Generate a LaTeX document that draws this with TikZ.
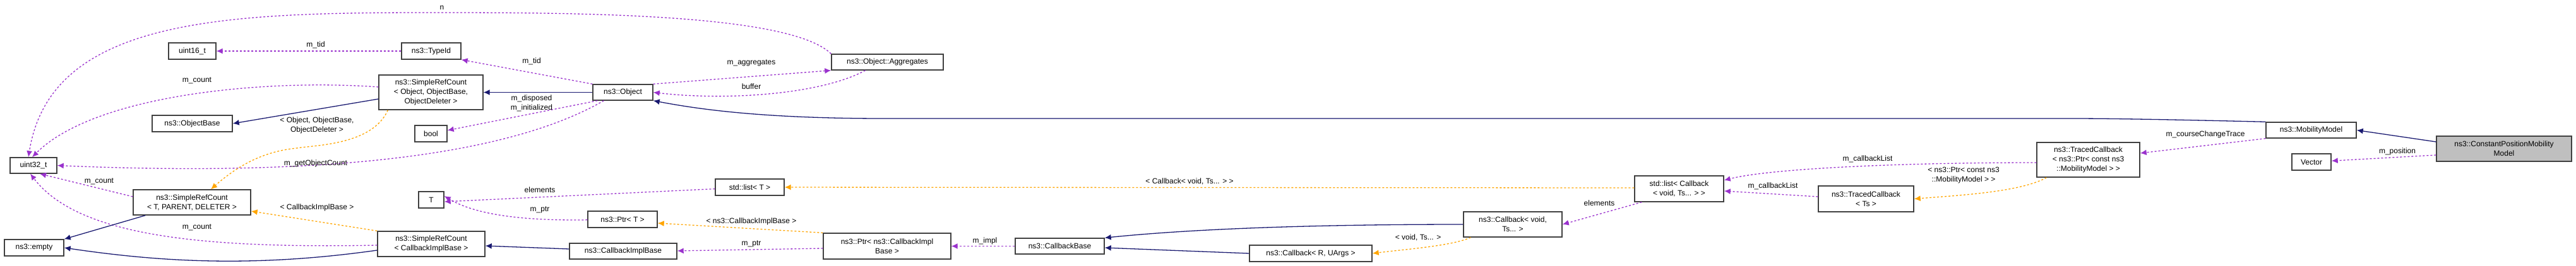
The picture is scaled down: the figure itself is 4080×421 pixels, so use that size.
\documentclass[tikz,border=0pt]{standalone}
\usepackage{fontspec}
\setmainfont{Liberation Sans}
\usetikzlibrary{arrows.meta, positioning}
\definecolor{edgePurple}{RGB}{154, 50, 205}
\definecolor{edgeOrange}{RGB}{255, 165, 0}
\definecolor{edgeNavy}{RGB}{25, 25, 112}
\definecolor{boxGrey}{RGB}{64, 64, 64}

\begin{document}
\begin{tikzpicture}[
            x=1pt, y=-1pt,
            font=\fontsize{12}{15}\selectfont,
            % --- Class boxes ---
            cls/.style={
                rectangle,
                draw=boxGrey,
                line width=1.4pt,
                fill=white,
                align=center,
                inner sep=2pt
            },
            focus/.style={
                cls,
                fill=gray!50
            },
            lbl/.style={
                inner sep=1pt,
                align=center
            },
            % --- Connectors ---
            member/.style={
                draw=edgePurple,
                dashed,
                line width=1.3pt,
                -{Latex[length=10pt,width=9pt]}
            },
            tmpl/.style={
                draw=edgeOrange,
                dashed,
                line width=1.3pt,
                -{Latex[length=10pt,width=9pt]}
            },
            inherit/.style={
                draw=edgeNavy,
                line width=1.3pt,
                -{Latex[length=10pt,width=9pt]}
            }
        ]
        \useasboundingbox (0,0) rectangle (4080,421);

        % --- Nodes ---
        \node [cls, minimum width=74, minimum height=25] (u32) at (53,262.5) {uint32\_t};
        \node [cls, minimum width=94, minimum height=26] (empty) at (54,393) {ns3::empty};
        \node [cls, minimum width=75, minimum height=26] (u16) at (304.5,81) {uint16\_t};
        \node [cls, minimum width=94, minimum height=26] (typeid) at (683,81) {ns3::TypeId};
        \node [cls, minimum width=165, minimum height=55] (srcObj) at (682.5,146.5) {ns3::SimpleRefCount\\< Object, ObjectBase,\\ObjectDeleter >};
        \node [cls, minimum width=127, minimum height=26] (objbase) at (304.5,196) {ns3::ObjectBase};
        \node [cls, minimum width=51, minimum height=26] (bool) at (682.5,212) {bool};
        \node [cls, minimum width=95, minimum height=25] (object) at (986.5,146.5) {ns3::Object};
        \node [cls, minimum width=186, minimum height=40] (srcTPD) at (304,321) {ns3::SimpleRefCount\\< T, PARENT, DELETER >};
        \node [cls, minimum width=40, minimum height=26] (tparam) at (683,317) {T};
        \node [cls, minimum width=110, minimum height=26] (ptrT) at (986,348) {ns3::Ptr< T >};
        \node [cls, minimum width=170, minimum height=40] (srcCIB) at (683,387) {ns3::SimpleRefCount\\< CallbackImplBase >};
        \node [cls, minimum width=170, minimum height=25] (cib) at (987,398.5) {ns3::CallbackImplBase};
        \node [cls, minimum width=177, minimum height=25] (aggr) at (1405.5,98.5) {ns3::Object::Aggregates};
        \node [cls, minimum width=109, minimum height=26] (listT) at (1187.5,297) {std::list< T >};
        \node [cls, minimum width=202, minimum height=41] (ptrCIB) at (1405,390.5) {ns3::Ptr< ns3::CallbackImpl\\Base >};
        \node [cls, minimum width=141, minimum height=25] (cbBase) at (1678.5,390.5) {ns3::CallbackBase};
        \node [cls, minimum width=194, minimum height=26] (cbRU) at (2076,402) {ns3::Callback< R, UArgs >};
        \node [cls, minimum width=156, minimum height=40] (cbVoid) at (2396,356) {ns3::Callback< void,\\Ts... >};
        \node [cls, minimum width=141, minimum height=41] (listCb) at (2659.5,299.5) {std::list< Callback\\< void, Ts... > >};
        \node [cls, minimum width=151, minimum height=41] (tcTs) at (2955.5,315.5) {ns3::TracedCallback\\< Ts >};
        \node [cls, minimum width=163, minimum height=55] (tcPtr) at (3307.5,253.5) {ns3::TracedCallback\\< ns3::Ptr< const ns3\\::MobilityModel > >};
        \node [cls, minimum width=143, minimum height=25] (mob) at (3660.5,206.5) {ns3::MobilityModel};
        \node [cls, minimum width=62, minimum height=26] (vector) at (3661,257) {Vector};
        \node [focus, minimum width=214, minimum height=40] (cpm) at (3966,236) {ns3::ConstantPositionMobility\\Model};

        % --- Members ---
        \draw [member] (aggr.north west) .. controls (1250,20) and (900,20) .. (680,20) .. controls (350,20) and (80,30) .. ([xshift=-8]u32.north);
        \draw [member] (typeid) -- (u16);
        \draw [member] (object.north west) -- (typeid.south east);
        \draw [member] (srcObj.west |- 0,138) .. controls (420,125) and (150,150) .. ([xshift=-2]u32.north);
        \draw [member] ([xshift=8]object.south west) -- (bool);
        \draw [member] ([xshift=18]object.south west) .. controls (800,250) and (500,280) .. (u32.east);
        \draw [member] (object.north east) -- (aggr.south west);
        \draw [member] ([xshift=-35]aggr.south) .. controls (1300,150) and (1150,160) .. (object.east);
        \draw [member] (srcTPD.west |- 0,312) -- ([xshift=10]u32.south);
        \draw [member] (srcCIB.west |- 0,389) .. controls (300,395) and (120,370) .. ([xshift=-5]u32.south);
        \draw [member] (listT) -- ([yshift=-3]tparam.east);
        \draw [member] (ptrT) .. controls (850,350) and (760,345) .. ([yshift=6]tparam.east);
        \draw [member] (ptrCIB.west |- 0,394) -- (cib.east |- 0,398);
        \draw [member] (cbBase) -- (ptrCIB);
        \draw [member] ([xshift=12]listCb.south west) -- (cbVoid.east);
        \draw [member] (tcTs.west |- 0,312) -- (listCb.east |- 0,303);
        \draw [member] (tcPtr.west |- 0,258) .. controls (3000,258) and (2800,268) .. (listCb.east |- 0,286);
        \draw [member] (mob.south west) -- (tcPtr.east |- 0,243);
        \draw [member] (cpm.west |- 0,246) -- (vector);

        % --- Template instances ---
        \draw [tmpl] ([xshift=15]srcObj.south west) .. controls (590,230) and (500,230) .. (470,235) .. controls (420,240) and (380,260) .. ([xshift=30]srcTPD.north);
        \draw [tmpl] (srcCIB.north west) -- (srcTPD.east |- 0,335);
        \draw [tmpl] (ptrCIB.north west) -- (ptrT.east |- 0,354);
        \draw [tmpl] (listCb.west |- 0,298) -- (listT);
        \draw [tmpl] ([xshift=12]cbVoid.south west) .. controls (2300,390) and (2230,395) .. (cbRU.east);
        \draw [tmpl] ([xshift=16]tcPtr.south west) .. controls (3200,305) and (3100,310) .. (tcTs.east);

        % --- Inheritance ---
        \draw [inherit] (object) -- (srcObj);
        \draw [inherit] (srcObj.west |- 0,157) -- (objbase.east);
        \draw [inherit] ([xshift=20]srcTPD.south west) -- (empty.north east);
        \draw [inherit] (srcCIB.west |- 0,397) .. controls (400,425) and (250,415) .. (empty.east);
        \draw [inherit] (cib.west |- 0,395) -- (srcCIB.east |- 0,390);
        \draw [inherit] (mob.north west) .. controls (3450,190) and (3350,188) .. (3280,188) -- (1400,188) .. controls (1200,188) and (1100,172) .. (object.south east);
        \draw [inherit] (cpm.west |- 0,225) -- (mob.east);
        \draw [inherit] (cbVoid.west) .. controls (2100,356) and (1900,362) .. (cbBase.north east);
        \draw [inherit] (cbRU.west) -- (cbBase.east |- 0,393);

        % --- Labels ---
        \node [lbl] (lN) at (700,12) {n};
        \node [lbl] (lTid) at (500,71) {m\_tid};
        \node [lbl] (lTid2) at (842,97) {m\_tid};
        \node [lbl] (lCnt1) at (312,128) {m\_count};
        \node [lbl] (lDisp) at (842,164) {m\_disposed\\m\_initialized};
        \node [lbl] (lGoc) at (500,259) {m\_getObjectCount};
        \node [lbl] (lAggr) at (1190,100) {m\_aggregates};
        \node [lbl] (lBuf) at (1190,137) {buffer};
        \node [lbl] (lCnt2) at (157,288) {m\_count};
        \node [lbl] (lCnt3) at (312,361) {m\_count};
        \node [lbl] (lElem) at (855,301) {elements};
        \node [lbl] (lPtr) at (855,333) {m\_ptr};
        \node [lbl] (lPtr2) at (1190,387) {m\_ptr};
        \node [lbl] (lImpl) at (1560,382) {m\_impl};
        \node [lbl] (lElem2) at (2533,322) {elements};
        \node [lbl] (lCbl) at (2808,295) {m\_callbackList};
        \node [lbl] (lCbl2) at (2958,252) {m\_callbackList};
        \node [lbl] (lCct) at (3493,213) {m\_courseChangeTrace};
        \node [lbl] (lPos) at (3797,240) {m\_position};
        \node [lbl] (lTObj) at (502,199) {< Object, ObjectBase,\\ObjectDeleter >};
        \node [lbl] (lTCib) at (502,329) {< CallbackImplBase >};
        \node [lbl] (lTPtr) at (1190,351) {< ns3::CallbackImplBase >};
        \node [lbl] (lTCb) at (1884,288) {< Callback< void, Ts... > >};
        \node [lbl] (lTVoid) at (2246,377) {< void, Ts... >};
        \node [lbl] (lTMob) at (3110,278) {< ns3::Ptr< const ns3\\::MobilityModel > >};
\end{tikzpicture}
\end{document}
